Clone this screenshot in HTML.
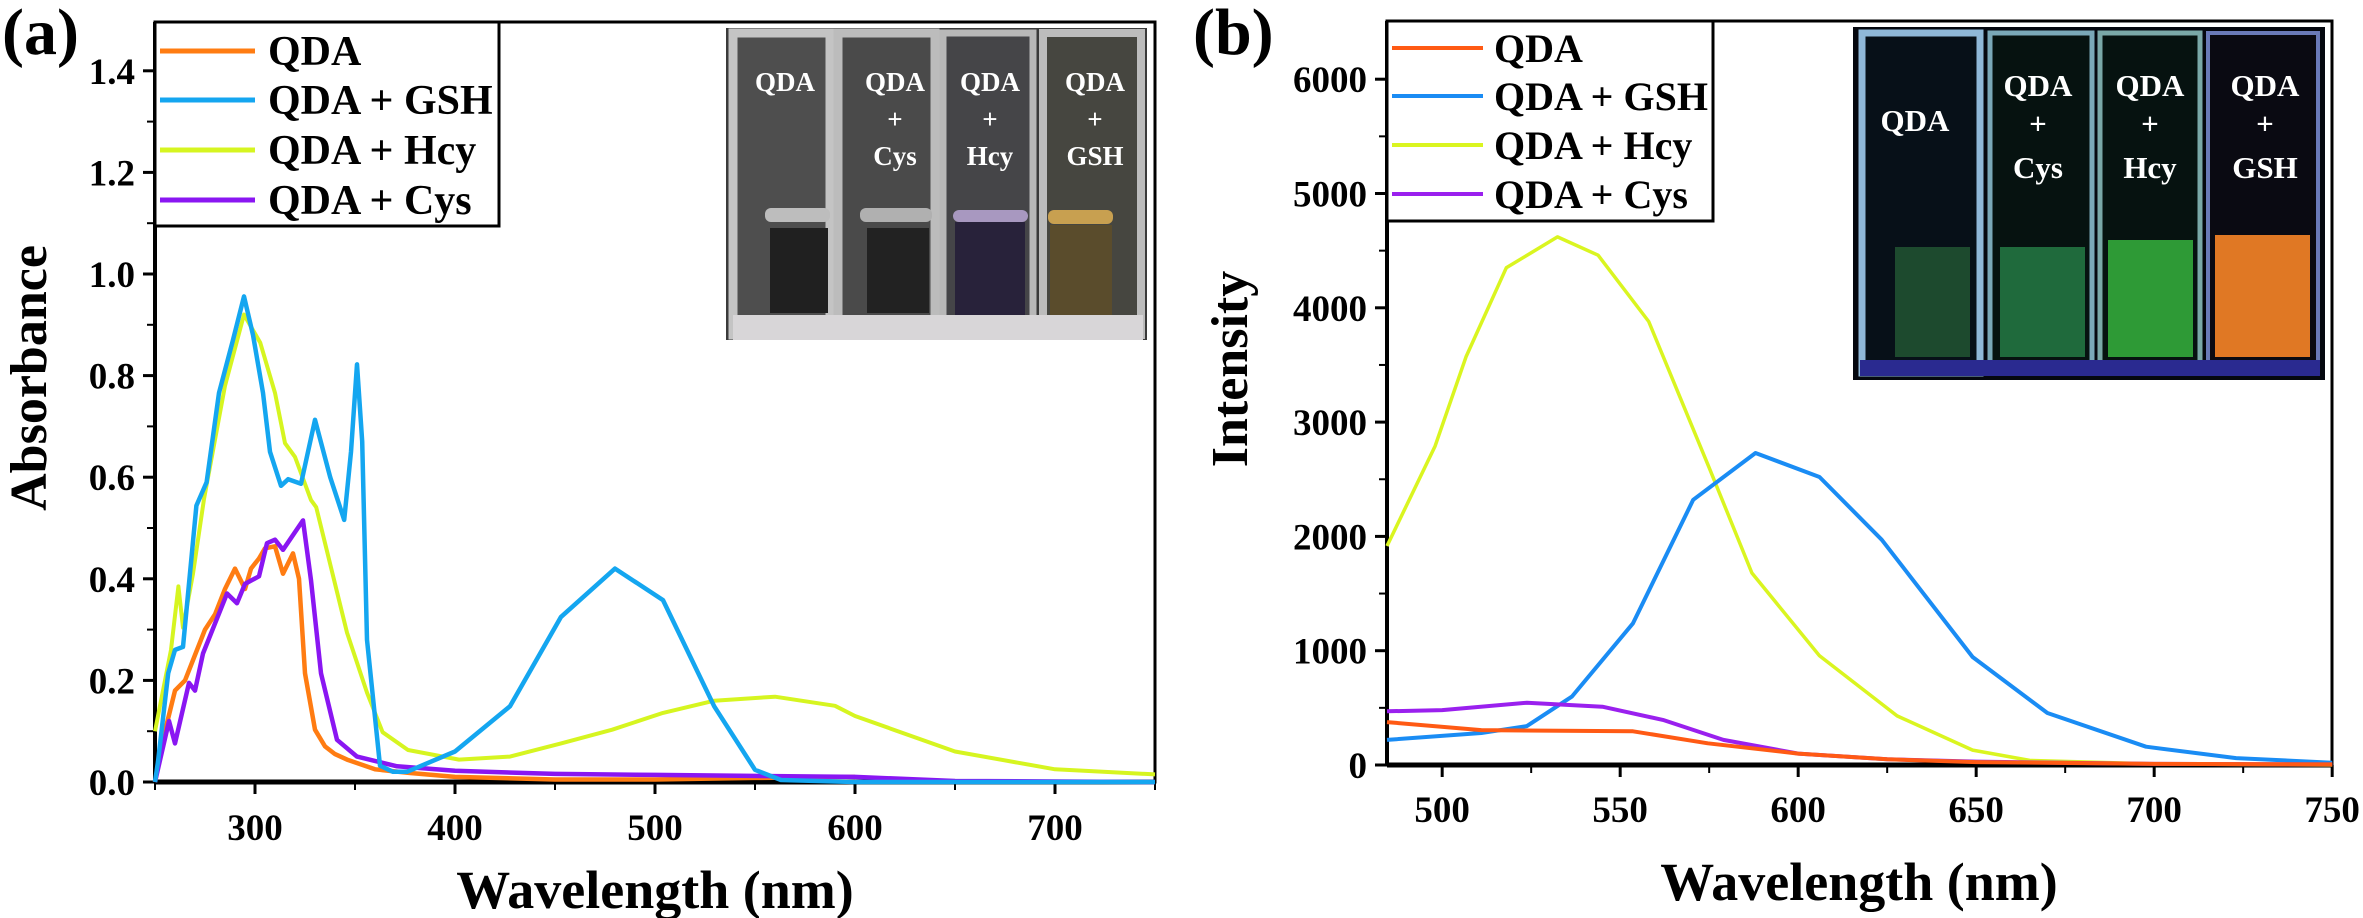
<!DOCTYPE html>
<html><head><meta charset="utf-8"><style>
html,body{margin:0;padding:0;background:#fff;}
svg{display:block;}
svg text{font-family:"Liberation Serif","Times New Roman",serif;font-weight:bold;}
</style></head><body>
<svg id="fig" width="2363" height="918" viewBox="0 0 2363 918" xmlns="http://www.w3.org/2000/svg" font-family="Liberation Serif, serif" font-weight="bold">
<g id="photoA">
 <rect x="726" y="28" width="421" height="312" fill="#3a3a3a"/>
 <rect x="733" y="33" width="97" height="302" fill="#4e4e4e" stroke="#c4c4c4" stroke-width="9"/>
 <rect x="838" y="33" width="97" height="302" fill="#4a4a4a" stroke="#bcbcbc" stroke-width="9"/>
 <rect x="943" y="33" width="90" height="302" fill="#454548" stroke="#b8b8b8" stroke-width="7"/>
 <rect x="1043" y="33" width="98" height="302" fill="#464640" stroke="#bcbcbc" stroke-width="8"/>
 <rect x="770" y="228" width="58" height="85" fill="#202020"/>
 <rect x="867" y="228" width="62" height="85" fill="#222"/>
 <rect x="955" y="222" width="70" height="95" fill="#28223a"/>
 <rect x="1050" y="225" width="62" height="95" fill="#5a4c2c"/>
 <rect x="765" y="208" width="65" height="14" rx="6" fill="#bdbdbd"/>
 <rect x="860" y="208" width="72" height="14" rx="6" fill="#b0b0b0"/>
 <rect x="953" y="210" width="75" height="12" rx="6" fill="#a898c0"/>
 <rect x="1048" y="210" width="65" height="14" rx="6" fill="#c8a050"/>
 <rect x="733" y="315" width="410" height="25" fill="#d8d6d8"/>
 <g fill="#fff" font-size="27" text-anchor="middle">
  <text x="785" y="91">QDA</text>
  <text x="895" y="91">QDA</text><text x="895" y="128">+</text><text x="895" y="165">Cys</text>
  <text x="990" y="91">QDA</text><text x="990" y="128">+</text><text x="990" y="165">Hcy</text>
  <text x="1095" y="91">QDA</text><text x="1095" y="128">+</text><text x="1095" y="165">GSH</text>
 </g>
</g>
<g id="photoB">
 <rect x="1853" y="27" width="472" height="353" fill="#05080f"/>
 <rect x="1862" y="33" width="118" height="340" fill="#071018" stroke="#8fb8d8" stroke-width="7"/>
 <rect x="1990" y="33" width="102" height="340" fill="#061210" stroke="#7aa8b8" stroke-width="5"/>
 <rect x="2100" y="33" width="100" height="340" fill="#061210" stroke="#7aa8a8" stroke-width="5"/>
 <rect x="2208" y="33" width="110" height="340" fill="#0a0a12" stroke="#6a7ab8" stroke-width="4"/>
 <rect x="1895" y="247" width="75" height="110" fill="#1d4a2e"/>
 <rect x="2000" y="247" width="85" height="110" fill="#1f6a3c"/>
 <rect x="2108" y="240" width="85" height="117" fill="#2e9a36"/>
 <rect x="2215" y="235" width="95" height="122" fill="#e07824"/>
 <rect x="1860" y="360" width="460" height="16" fill="#2a2a90"/>
 <g fill="#fff" font-size="31" text-anchor="middle">
  <text x="1915" y="131">QDA</text>
  <text x="2038" y="96">QDA</text><text x="2038" y="134">+</text><text x="2038" y="178">Cys</text>
  <text x="2150" y="96">QDA</text><text x="2150" y="134">+</text><text x="2150" y="178">Hcy</text>
  <text x="2265" y="96">QDA</text><text x="2265" y="134">+</text><text x="2265" y="178">GSH</text>
 </g>
</g>
</svg>
<script>
// ---- Panel (a) data: UV-vis absorbance ----
const aQdaWl=[250,255,260,265,270,275,280,285,290,295,298,302,305,310,314,319,322,325,330,335,340,346,360,377,400,450,500,550,600];
const aQdaAbs=[0,0.1,0.18,0.2,0.25,0.3,0.33,0.38,0.42,0.38,0.42,0.44,0.46,0.464,0.41,0.45,0.4,0.214,0.103,0.07,0.055,0.044,0.025,0.018,0.01,0.005,0.005,0.008,0.01];
const aGshWl=[250,251.5,256.6,260,264,270.7,275.8,282,289,294.5,299,304,307.5,313,316.6,323,330,337.6,344.6,348,351,353.6,356,362.5,369,376,400,427.5,453,480,504,529.6,550,563,600,750];
const aGshAbs=[0,0.04,0.214,0.26,0.266,0.544,0.59,0.766,0.87,0.956,0.88,0.766,0.65,0.583,0.596,0.587,0.713,0.6,0.516,0.65,0.822,0.67,0.28,0.032,0.02,0.02,0.06,0.149,0.325,0.42,0.358,0.149,0.024,0.004,0,0];
const aHcyWl=[250,258,261.7,264,269,274.5,285,294.5,302.6,310,315,320,328,330.6,346,356,363.8,376.5,402,427.5,453,478.6,504,529.6,560,590,600,650,700,750];
const aHcyAbs=[0.1,0.26,0.385,0.304,0.41,0.557,0.78,0.92,0.865,0.766,0.667,0.64,0.555,0.541,0.294,0.176,0.098,0.063,0.044,0.05,0.076,0.103,0.136,0.16,0.168,0.15,0.13,0.06,0.025,0.015];
const aCysWl=[250,257,260,267,270,274,286,291,295,302,306,310,314,324,328,333,341,351,371,400,450,500,600,650,750];
const aCysAbs=[0,0.12,0.076,0.195,0.18,0.253,0.371,0.352,0.39,0.405,0.47,0.477,0.457,0.515,0.397,0.214,0.083,0.05,0.031,0.022,0.016,0.014,0.01,0.002,0];
const aXTicks=[300,400,500,600,700];
const aYTicks=[0.0,0.2,0.4,0.6,0.8,1.0,1.2,1.4];
// ---- Panel (b) data: fluorescence intensity ----
const bQdaWl=[484.5,511,553.6,574.6,600,625,650,700,750];
const bQdaInt=[375,305,295,190,100,50,25,10,5];
const bGshWl=[484.5,511,523.8,536.5,553.6,570.5,588,606,623.5,649,670,697.7,723,750];
const bGshInt=[220,280,340,600,1240,2320,2730,2520,1970,945,455,160,60,20];
const bHcyWl=[484.5,498,506.7,518,532.4,543.8,558,575,587,606,627.8,649,665,700,750];
const bHcyInt=[1916,2790,3570,4350,4620,4460,3880,2600,1680,955,430,130,40,10,0];
const bCysWl=[484.5,500,523.8,545,562,579,600,625,650,700,750];
const bCysInt=[470,480,545,510,395,220,100,50,30,10,5];
const bXTicks=[500,550,600,650,700,750];
const bYTicks=[0,1000,2000,3000,4000,5000,6000];

const NS='http://www.w3.org/2000/svg';
const svg=document.getElementById('fig');
function el(tag,attrs,parent){const e=document.createElementNS(NS,tag);for(const k in attrs)e.setAttribute(k,attrs[k]);(parent||svg).appendChild(e);return e;}

const ax=w=>155+(w-250)*2.0;
const ay=v=>782-v*508;
const bx=w=>1387+(w-484.5)*3.56;
const by=v=>765-v*0.1143;

function panel(pfx,L,R,T,B,xs,ys,xt,yt,xminor,yminor,yfmt,ylabel,ylabX,ylabY,xlabX,xlabY,tickY){
  const g=el('g',{});
  
  
  el('rect',{x:L,y:T,width:R-L,height:B-T,fill:'none',stroke:'#000','stroke-width':3},g);
  el('line',{x1:L,y1:B,x2:R,y2:B,stroke:'#000','stroke-width':5},g);
  el('line',{x1:L,y1:T,x2:L,y2:B,stroke:'#000','stroke-width':4},g);
  xt.forEach(t=>{
    el('line',{x1:xs(t),y1:B,x2:xs(t),y2:B+12,stroke:'#000','stroke-width':3},g);
    const tx=el('text',{x:xs(t),y:tickY,'text-anchor':'middle','font-size':37},g);
    tx.textContent=t;
    
    
  });
  xminor.forEach(t=>el('line',{x1:xs(t),y1:B,x2:xs(t),y2:B+8,stroke:'#000','stroke-width':2},g));
  yt.forEach(t=>{
    el('line',{x1:L-12,y1:ys(t),x2:L,y2:ys(t),stroke:'#000','stroke-width':3},g);
    const tx=el('text',{x:L-20,y:ys(t)+13,'text-anchor':'end','font-size':37},g);
    tx.textContent=yfmt(t);
    
    
  });
  yminor.forEach(t=>el('line',{x1:L-8,y1:ys(t),x2:L,y2:ys(t),stroke:'#000','stroke-width':2},g));
  const yl=el('text',{x:ylabX,y:ylabY,'text-anchor':'middle','font-size':52,transform:`rotate(-90 ${ylabX} ${ylabY})`},g);
  yl.textContent=ylabel;
  
  
  const xl=el('text',{x:xlabX,y:xlabY,'text-anchor':'middle','font-size':54},g);
  xl.textContent='Wavelength (nm)';
  
  
}
panel('a',155,1155,22,782,ax,ay,aXTicks,aYTicks,[250,350,450,550,650,750],[0.1,0.3,0.5,0.7,0.9,1.1,1.3],v=>v.toFixed(1),'Absorbance',46,378,655,908,840);
panel('b',1387,2332,21,765,bx,by,bXTicks,bYTicks,[525,575,625,675,725],[500,1500,2500,3500,4500,5500],v=>String(v),'Intensity',1247,369,1859,900,822);

function series(xs,ys,wl,vals,color,w,name){
  const pts=wl.map((x,i)=>xs(x).toFixed(1)+','+ys(vals[i]).toFixed(1)).join(' ');
  const p=el('polyline',{points:pts,fill:'none',stroke:color,'stroke-width':w,'stroke-linejoin':'round'});
  
  
}
series(ax,ay,aHcyWl,aHcyAbs,'#d6f520',4,'a-line-qda-hcy');
series(ax,ay,aQdaWl,aQdaAbs,'#ff7c12',4.5,'a-line-qda');
series(ax,ay,aCysWl,aCysAbs,'#8a16f2',4.5,'a-line-qda-cys');
series(ax,ay,aGshWl,aGshAbs,'#14a6f0',4.5,'a-line-qda-gsh');
series(bx,by,bHcyWl,bHcyInt,'#daf520',3.5,'b-line-qda-hcy');
series(bx,by,bGshWl,bGshInt,'#1a8cf4',4,'b-line-qda-gsh');
series(bx,by,bCysWl,bCysInt,'#9a20ee',4,'b-line-qda-cys');
series(bx,by,bQdaWl,bQdaInt,'#ff5a14',4,'b-line-qda');

function legend(pfx,L,T,R,B,rows,l1,l2,tx,fs,lw){
  const g=el('g',{});
  
  
  el('rect',{x:L,y:T,width:R-L,height:B-T,fill:'#fff',stroke:'#000','stroke-width':3},g);
  rows.forEach(r=>{
    const e=el('g',{},g);
    
    
    el('line',{x1:l1,y1:r[0],x2:l2,y2:r[0],stroke:r[1],'stroke-width':lw},e);
    const t=el('text',{x:tx,y:r[0]+14,'font-size':fs},e);
    t.textContent=r[2];
  });
}
legend('a',155,22,499,226,[[51,'#ff7c12','QDA'],[100,'#14a6f0','QDA + GSH'],[150,'#d6f520','QDA + Hcy'],[200,'#8a16f2','QDA + Cys']],160,255,268,42,5);
legend('b',1387,21,1713,221,[[48,'#ff5a14','QDA'],[96,'#1a8cf4','QDA + GSH'],[145,'#daf520','QDA + Hcy'],[194,'#9a20ee','QDA + Cys']],1392,1483,1494,40,4);

const la=el('text',{x:2,y:54,'font-size':66});
la.textContent='(a)';


const lb=el('text',{x:1193,y:54,'font-size':66});
lb.textContent='(b)';


svg.appendChild(document.getElementById('photoA'));
svg.appendChild(document.getElementById('photoB'));
</script>
</body></html>
